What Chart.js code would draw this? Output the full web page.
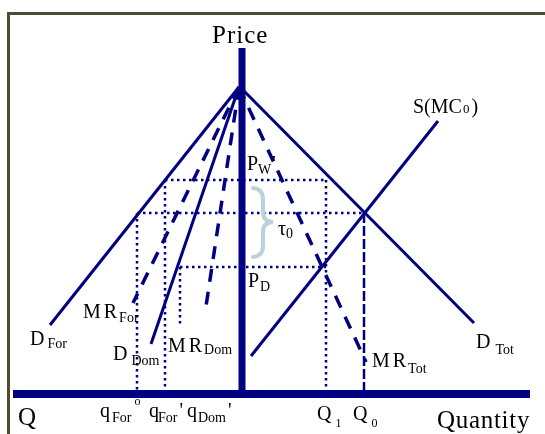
<!DOCTYPE html>
<html>
<head>
<meta charset="utf-8">
<script src="https://cdn.jsdelivr.net/npm/chart.js@4/dist/chart.umd.min.js"></script>
<style>
  body { margin: 0; background: #fff; }
  canvas { display: block; }
</style>
</head>
<body>
<canvas id="grafico" width="545" height="434"></canvas>
<script>
// curves: start point and end point (quantity, price); foreign quantity is to the left of the price axis
const curveNames = ['D_For', 'MR_For', 'D_Dom', 'MR_Dom', 'D_Tot', 'MR_Tot', 'S'];
const curveStartQ = [-0.3, -0.3, -0.3, -0.3, 0.1, -0.3, 0.9];
const curveStartP = [30.7, 30.7, 30.7, 30.7, 30.4, 30.7, 3.8];
const curveEndQ = [-19.2, -10.9, -9.1, -3.7, 23.2, 12.4, 19.6];
const curveEndP = [6.9, 9.1, 5.0, 8.1, 7.1, 3.2, 27.3];
const curveDashed = [false, true, false, true, false, true, false];

// price levels: P_W', P_W (world), P_D
const priceLevels = [21.4, 18.1, 12.7];
// quantities: q_For o, q_For', q_Dom', Q1, Q0
const quantities = [-10.5, -7.7, -6.2, 8.4, 12.2];
const mrDomFoot = 6.7;

const navy = '#000080';

function seg(x1, y1, x2, y2) {
    return [{ x: x1, y: y1 }, { x: x2, y: y2 }];
}

const [pW2, pW, pD] = priceLevels;
const [qForO, qFor2, qDom2, q1, q0] = quantities;

const datasets = [];

// dotted guides
const guias = [
    seg(qFor2, pW2, q1, pW2),
    seg(qForO, pW, q0, pW),
    seg(qDom2, pD, q1, pD),
    seg(qForO, pW, qForO, 0),
    seg(qFor2, pW2, qFor2, 0),
    seg(qDom2, pD, qDom2, mrDomFoot),
    seg(q1, pW2, q1, 0)
];
guias.forEach(g => {
    datasets.push({ data: g, borderColor: navy, borderWidth: 2.5, borderDash: [2.5, 3.5], showLine: true, pointRadius: 0 });
});
// dashed Q0 line
datasets.push({ data: seg(q0, pW, q0, 0), borderColor: navy, borderWidth: 2.5, borderDash: [10, 3], showLine: true, pointRadius: 0 });

curveNames.forEach((nome, i) => {
    datasets.push({
        label: nome,
        data: seg(curveStartQ[i], curveStartP[i], curveEndQ[i], curveEndP[i]),
        borderColor: navy,
        borderWidth: curveDashed[i] ? 3.5 : 3,
        borderDash: curveDashed[i] ? [13, 10] : [],
        showLine: true,
        pointRadius: 0
    });
});

// labels: [text, size, gap before, baseline shift]
const rotulos = [
    { x: -3.0, y: 35.1, parts: [['Price', 25, 0, 0]], sp: 1 },
    { x: 0.5, y: 22.4, parts: [['P', 20, 0, 0], ['W', 14, 0, 4], ["'", 20, 1, 0]] },
    { x: 0.6, y: 10.7, parts: [['P', 20, 0, 0], ['D', 14, 1, 4]] },
    { x: 3.6, y: 15.9, parts: [['τ', 20, 0, 0], ['0', 14, 0, 3]] },
    { x: 17.1, y: 28.1, parts: [['S(MC', 20, 0, 0], ['0', 13, 1, 0], [')', 20, 2, 0]] },
    { x: -21.2, y: 4.9, parts: [['D', 20, 0, 0], ['For', 14, 3, 3]] },
    { x: -15.9, y: 7.6, parts: [['MR', 20, 0, 0, 3], ['For', 14, -1, 4]] },
    { x: -12.9, y: 3.4, parts: [['D', 20, 0, 0], ['Dom', 14, 4, 5]] },
    { x: -7.4, y: 4.2, parts: [['MR', 20, 0, 0, 3], ['Dom', 14, -1, 2]] },
    { x: 23.4, y: 4.6, parts: [['D', 20, 0, 0], ['Tot', 14, 5, 6]] },
    { x: 13.0, y: 2.7, parts: [['MR', 20, 0, 0, 3], ['Tot', 14, -1, 6]] },
    { x: -22.4, y: -3.1, parts: [['Q', 25, 0, 0]] },
    { x: -14.2, y: -2.3, parts: [['q', 20, 0, 0], ['For', 14, 2, 5], ['o', 12, 3, -12]] },
    { x: -9.3, y: -2.3, parts: [['q', 20, 0, 0], ['For', 14, -1, 5], ["'", 20, 2, 0]] },
    { x: -5.5, y: -2.3, parts: [['q', 20, 0, 0], ['Dom', 14, 1, 5], ["'", 20, 2, 0]] },
    { x: 7.5, y: -2.6, parts: [['Q', 20, 0, 0], ['1', 12, 4, 7]] },
    { x: 11.1, y: -2.6, parts: [['Q', 20, 0, 0], ['0', 12, 4, 7]] },
    { x: 19.5, y: -3.4, parts: [['Quantity', 25, 0, 0]], sp: 0.7 }
];

const desenhoPlugin = {
    id: 'desenho',
    beforeDraw(chart) {
        const ctx = chart.ctx;
        ctx.save();
        ctx.fillStyle = '#fff';
        ctx.fillRect(0, 0, chart.width, chart.height);
        // moldura
        ctx.strokeStyle = '#4f4c33';
        ctx.lineWidth = 3;
        ctx.beginPath();
        ctx.moveTo(8.5, chart.height);
        ctx.lineTo(8.5, 13.5);
        ctx.lineTo(chart.width, 13.5);
        ctx.stroke();
        ctx.restore();
    },
    afterDatasetsDraw(chart) {
        const ctx = chart.ctx;
        const xs = chart.scales.x, ys = chart.scales.y;
        const area = chart.chartArea;
        const x0 = xs.getPixelForValue(0), y0 = ys.getPixelForValue(0);
        ctx.save();
        // eixos grossos
        ctx.fillStyle = navy;
        ctx.fillRect(x0 - 3.5, area.top, 7, y0 - area.top);
        ctx.fillRect(area.left, y0 - 4, area.right - area.left, 8);

        // chave do tau
        const bx1 = xs.getPixelForValue(1.1), bx2 = xs.getPixelForValue(2.1), bx3 = xs.getPixelForValue(3.1);
        const by1 = ys.getPixelForValue(20.6), bym = ys.getPixelForValue(17.2), by2 = ys.getPixelForValue(13.7);
        ctx.strokeStyle = '#b9d3db';
        ctx.lineWidth = 4;
        ctx.lineCap = 'round';
        ctx.beginPath();
        ctx.moveTo(bx1, by1);
        ctx.quadraticCurveTo(bx2, by1 + 1, bx2, by1 + 11);
        ctx.lineTo(bx2, bym - 9);
        ctx.quadraticCurveTo(bx2, bym - 1, bx3, bym);
        ctx.quadraticCurveTo(bx2, bym + 1, bx2, bym + 9);
        ctx.lineTo(bx2, by2 - 11);
        ctx.quadraticCurveTo(bx2, by2 - 1, bx1, by2);
        ctx.stroke();

        // textos
        ctx.fillStyle = '#000';
        ctx.textBaseline = 'alphabetic';
        ctx.textAlign = 'left';
        rotulos.forEach(r => {
            let px = xs.getPixelForValue(r.x);
            const py = ys.getPixelForValue(r.y);
            r.parts.forEach(p => {
                const [txt, size, gap, dy, sp] = p;
                ctx.font = size + 'px "Liberation Serif", "Times New Roman", serif';
                ctx.letterSpacing = (sp !== undefined ? sp : (r.sp || 0)) + 'px';
                px += gap;
                ctx.fillText(txt, px, py + dy);
                px += ctx.measureText(txt).width;
            });
        });
        ctx.restore();
    }
};

new Chart(document.getElementById('grafico'), {
    type: 'scatter',
    data: { datasets: datasets },
    options: {
        responsive: false,
        animation: false,
        devicePixelRatio: 1,
        layout: { padding: { left: 13, right: 15, top: 48, bottom: 40 } },
        scales: {
            x: { type: 'linear', min: -22.9, max: 28.8, display: false },
            y: { type: 'linear', min: 0, max: 34.6, display: false }
        },
        plugins: {
            legend: { display: false },
            tooltip: { enabled: false }
        },
        elements: { line: { tension: 0, borderCapStyle: 'butt' } }
    },
    plugins: [desenhoPlugin]
});
</script>
</body>
</html>
